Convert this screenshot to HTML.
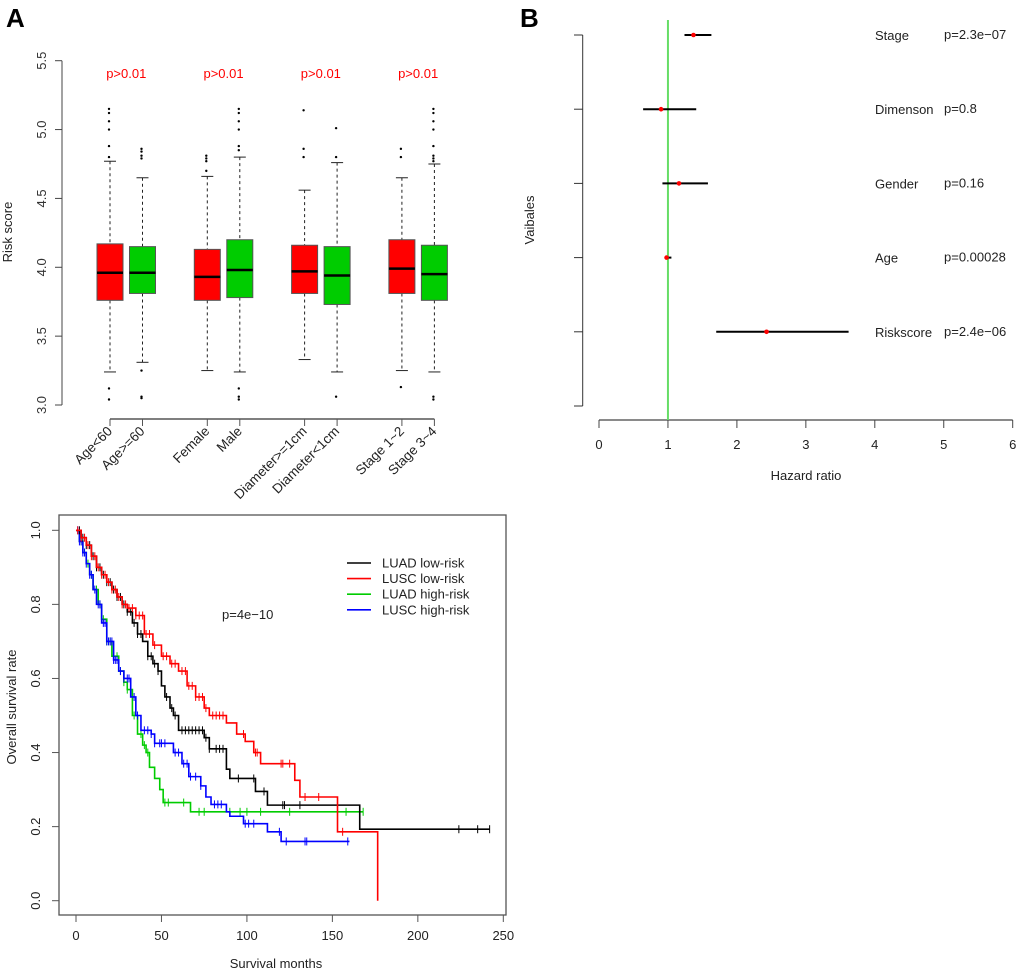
<!DOCTYPE html>
<html><head><meta charset="utf-8"><style>
body{margin:0;background:#fff}
svg{display:block;font-family:"Liberation Sans",Arial,sans-serif}
</style></head><body>
<svg id="s" width="1020" height="973" viewBox="0 0 1020 973">
<text x="6" y="27" font-size="26" font-weight="bold">A</text>
<text x="520" y="27" font-size="26" font-weight="bold">B</text>
<g id="box"></g>
<g id="forest"></g>
<g id="surv"></g>
</svg>
<script>
// ---- Boxplot data ----
const boxCats=["Age<60","Age>=60","Female","Male","Diameter>=1cm","Diameter<1cm","Stage 1~2","Stage 3~4"];
const boxLow=[3.24,3.31,3.25,3.24,3.33,3.24,3.25,3.24];
const boxQ1=[3.76,3.81,3.76,3.78,3.81,3.73,3.81,3.76];
const boxMed=[3.96,3.96,3.93,3.98,3.97,3.94,3.99,3.95];
const boxQ3=[4.17,4.15,4.13,4.20,4.16,4.15,4.20,4.16];
const boxHigh=[4.77,4.65,4.66,4.80,4.56,4.76,4.65,4.75];
const boxOut=[[3.12,3.04,4.80,4.88,5.0,5.06,5.12,5.15],[3.25,3.05,3.06,4.79,4.81,4.84,4.86],[4.70,4.77,4.79,4.81],[3.12,3.06,3.04,4.85,4.88,5.0,5.06,5.12,5.15],[4.80,4.86,5.14],[3.06,4.80,5.01],[3.13,4.80,4.86],[3.04,3.06,4.77,4.79,4.81,4.88,5.0,5.06,5.12,5.15]];
const boxPLabels=["p>0.01","p>0.01","p>0.01","p>0.01"];
const boxTicks=[3.0,3.5,4.0,4.5,5.0,5.5];
// ---- Forest data ----
const fVars=["Stage","Dimenson","Gender","Age","Riskscore"];
const fHR=[1.37,0.90,1.16,0.98,2.43];
const fLo=[1.24,0.64,0.92,0.95,1.70];
const fHi=[1.63,1.41,1.58,1.05,3.62];
const fP=["p=2.3e\u221207","p=0.8","p=0.16","p=0.00028","p=2.4e\u221206"];
const fTicks=[0,1,2,3,4,5,6];
// ---- Survival data ----
const sNames=["LUAD low-risk","LUSC low-risk","LUAD high-risk","LUSC high-risk"];
const sColors=["#000000","#ff0000","#00cc00","#0000ff"];
const sT0=[0,3,6,9,12,15,18,21,24,27,30,33,36,39,42,45,48,50,52,55,57,60,75,78,80,88,90,105,112,166,242];
const sS0=[1,0.98,0.96,0.93,0.90,0.88,0.86,0.84,0.82,0.80,0.78,0.75,0.72,0.70,0.66,0.64,0.62,0.58,0.55,0.52,0.50,0.46,0.44,0.41,0.41,0.355,0.33,0.295,0.258,0.193,0.193];
const sT1=[0,3,6,9,12,15,18,21,24,27,30,35,40,45,50,55,60,65,70,75,78,88,94,99,104,108,128,131,153,176.5,176.5];
const sS1=[1,0.98,0.96,0.93,0.90,0.88,0.86,0.84,0.82,0.80,0.79,0.77,0.72,0.69,0.66,0.64,0.62,0.58,0.55,0.52,0.50,0.48,0.45,0.43,0.40,0.37,0.325,0.28,0.186,0,0];
const sT2=[0,2,4,6,8,10,13,15,18,21,25,28,30,33,36,39,41,43,46,49,51,67,168];
const sS2=[1,0.97,0.94,0.91,0.88,0.84,0.80,0.76,0.70,0.66,0.62,0.59,0.57,0.50,0.45,0.42,0.40,0.36,0.33,0.30,0.265,0.24,0.24];
const sT3=[0,2,4,6,8,10,12,15,18,22,25,28,32,35,38,44,46,57,62,66,73,76,79,88,90,98,112,120,160];
const sS3=[1,0.97,0.94,0.91,0.88,0.84,0.80,0.75,0.70,0.65,0.62,0.60,0.55,0.50,0.46,0.45,0.425,0.40,0.37,0.335,0.31,0.28,0.26,0.24,0.228,0.208,0.186,0.16,0.16];
const sCens0=[2,4,6,8,10,12,14,16,18,20,22,24,26,28,30,32,34,36,38,42,44,46,48,53,56,58,62,64,66,68,70,72,74,76,78,82,84,86,95,104,110,121,122,131,224,235,242];
const sCens1=[1,3,5,7,9,11,13,15,17,19,21,23,25,27,29,31,33,35,37,39,41,43,46,51,53,56,58,62,64,66,68,70,72,74,76,80,82,84,86,98,105,106,120,121,125,134,142,156];
const sCens2=[3,5,7,9,12,14,16,18,20,22,24,26,28,30,32,34,38,40,42,52,54,63,72,75,90,96,100,108,125,158,168];
const sCens3=[1,2,3,4,5,6,8,9,11,13,14,16,17,18,19,20,21,22,23,24,26,28,30,31,34,36,40,42,44,46,49,50,52,58,60,63,65,67,70,73,81,83,85,99,101,104,119,123,134,135,159];

const NS="http://www.w3.org/2000/svg";
function mk(parent,tag,attrs,text){const e=document.createElementNS(NS,tag);for(const k in attrs)e.setAttribute(k,attrs[k]);if(text!==undefined)e.textContent=text;parent.appendChild(e);return e;}

// ===== Boxplot =====
(function(){
const g=document.getElementById('box');
const yS=v=>405-(v-3.0)*(405-60.7)/2.5;
const xPos=i=>110+Math.floor(i/2)*97.3+(i%2)*32.5;
const ax=mk(g,'line',{x1:62,x2:62,y1:yS(3),y2:yS(5.5),stroke:'#444'});

boxTicks.forEach(t=>{const y=yS(t);
  mk(g,'line',{x1:55,x2:62,y1:y,y2:y,stroke:'#444'});
  const tx=mk(g,'text',{x:46,y:y,'font-size':13,fill:'#333','text-anchor':'middle',transform:`rotate(-90 46 ${y})`},t.toFixed(1));
  });
const yt=mk(g,'text',{x:12,y:232,'font-size':13,fill:'#222','text-anchor':'middle',transform:'rotate(-90 12 232)'},'Risk score');

const xa=mk(g,'line',{x1:xPos(0),x2:xPos(7),y1:419,y2:419,stroke:'#555','stroke-width':1.5});

boxCats.forEach((c,i)=>{const x=xPos(i);
  mk(g,'line',{x1:x,x2:x,y1:419,y2:426,stroke:'#555'});
  const b=mk(g,'g',{});
  
  
  const col=i%2?'#00cc00':'#ff0000';
  mk(b,'line',{x1:x,x2:x,y1:yS(boxHigh[i]),y2:yS(boxQ3[i]),stroke:'#222','stroke-dasharray':'3,3'});
  mk(b,'line',{x1:x,x2:x,y1:yS(boxQ1[i]),y2:yS(boxLow[i]),stroke:'#222','stroke-dasharray':'3,3'});
  mk(b,'line',{x1:x-6,x2:x+6,y1:yS(boxHigh[i]),y2:yS(boxHigh[i]),stroke:'#222'});
  mk(b,'line',{x1:x-6,x2:x+6,y1:yS(boxLow[i]),y2:yS(boxLow[i]),stroke:'#222'});
  mk(b,'rect',{x:x-13,y:yS(boxQ3[i]),width:26,height:yS(boxQ1[i])-yS(boxQ3[i]),fill:col,stroke:'#555'});
  mk(b,'line',{x1:x-13,x2:x+13,y1:yS(boxMed[i]),y2:yS(boxMed[i]),stroke:'#000','stroke-width':2.5});
  boxOut[i].forEach(v=>mk(b,'circle',{cx:x-1,cy:yS(v),r:1.2,fill:'#000'}));
  const lt=mk(g,'text',{x:x+3,y:432,'font-size':13.5,fill:'#222','text-anchor':'end',transform:`rotate(-45 ${x+3} 432)`},c);
  
});
boxPLabels.forEach((p,j)=>{const x=(xPos(2*j)+xPos(2*j+1))/2;
  const t=mk(g,'text',{x:x,y:78,'font-size':13,fill:'#ff0000','text-anchor':'middle'},p);
  });
})();

// ===== Forest =====
(function(){
const g=document.getElementById('forest');
const xS=v=>599+v*(1012.7-599)/6;
const yRow=i=>35+i*74.2;
const ya=mk(g,'line',{x1:582.7,x2:582.7,y1:35,y2:406,stroke:'#333'});

for(let i=0;i<6;i++)mk(g,'line',{x1:574,x2:582.7,y1:yRow(i),y2:yRow(i),stroke:'#333'});
const xa=mk(g,'line',{x1:xS(0),x2:xS(6),y1:420,y2:420,stroke:'#444','stroke-width':1.3});

fTicks.forEach(t=>{const x=xS(t);mk(g,'line',{x1:x,x2:x,y1:420,y2:428,stroke:'#444'});
  const tx=mk(g,'text',{x:x,y:449,'font-size':13,fill:'#222','text-anchor':'middle'},t);
  });
const ref=mk(g,'line',{x1:xS(1),x2:xS(1),y1:20,y2:420,stroke:'#66dd66','stroke-width':2});

fVars.forEach((v,i)=>{const y=yRow(i);
  const r=mk(g,'g',{});
  mk(r,'line',{x1:xS(fLo[i]),x2:xS(fHi[i]),y1:y,y2:y,stroke:'#000','stroke-width':2});
  mk(r,'circle',{cx:xS(fHR[i]),cy:y,r:2.3,fill:'#ff0000'});
  mk(r,'text',{x:875,y:y+5,'font-size':13,fill:'#222'},v);
  mk(r,'text',{x:944,y:y+4,'font-size':13,fill:'#222'},fP[i]);
});
const xt=mk(g,'text',{x:806,y:480,'font-size':13,fill:'#222','text-anchor':'middle'},'Hazard ratio');

const yt2=mk(g,'text',{x:534,y:220,'font-size':13,fill:'#222','text-anchor':'middle',transform:'rotate(-90 534 220)'},'Vaibales');

})();

// ===== Survival =====
(function(){
const g=document.getElementById('surv');
const xS=m=>76+m*(503.3-76)/250;
const yS=s=>900.7-s*(900.7-530.3);
const fr=mk(g,'rect',{x:59,y:515,width:447,height:400,fill:'none',stroke:'#555','stroke-width':1.3});

[0,50,100,150,200,250].forEach(t=>{const x=xS(t);mk(g,'line',{x1:x,x2:x,y1:915,y2:922,stroke:'#555'});
  const tx=mk(g,'text',{x:x,y:940,'font-size':13,fill:'#222','text-anchor':'middle'},t);
  });
[0,0.2,0.4,0.6,0.8,1.0].forEach(t=>{const y=yS(t);mk(g,'line',{x1:52,x2:59,y1:y,y2:y,stroke:'#555'});
  const tx=mk(g,'text',{x:40,y:y,'font-size':13,fill:'#222','text-anchor':'middle',transform:`rotate(-90 40 ${y})`},t.toFixed(1));
  });
const xt=mk(g,'text',{x:276,y:968,'font-size':13,fill:'#222','text-anchor':'middle'},'Survival months');

const yt=mk(g,'text',{x:16,y:707,'font-size':13,fill:'#222','text-anchor':'middle',transform:'rotate(-90 16 707)'},'Overall survival rate');

const T=[sT0,sT1,sT2,sT3],S=[sS0,sS1,sS2,sS3],C=[sCens0,sCens1,sCens2,sCens3];
const survAt=(k,t)=>{let s=S[k][0];for(let i=0;i<T[k].length;i++){if(T[k][i]<=t)s=S[k][i];}return s;};
[2,3,0,1].forEach(k=>{
  let d=`M${xS(T[k][0])},${yS(S[k][0])}`;
  for(let i=1;i<T[k].length;i++){d+=` H${xS(T[k][i])} V${yS(S[k][i])}`;}
  const p=mk(g,'path',{d:d,fill:'none',stroke:sColors[k],'stroke-width':1.6});
  
  
  C[k].forEach(t=>{const x=xS(t),y=yS(survAt(k,t));
    mk(g,'line',{x1:x,x2:x,y1:y-4,y2:y+4,stroke:sColors[k],'stroke-width':1});});
});
const pv=mk(g,'text',{x:222,y:619,'font-size':13,fill:'#222'},'p=4e\u221210');

sNames.forEach((n,k)=>{const y=563+k*15.6;
  const le=mk(g,'g',{});
  mk(le,'line',{x1:347,x2:371,y1:y,y2:y,stroke:sColors[k],'stroke-width':1.6});
  mk(le,'text',{x:382,y:y+4.5,'font-size':13,fill:'#222'},n);});
})();
</script>
</body></html>
